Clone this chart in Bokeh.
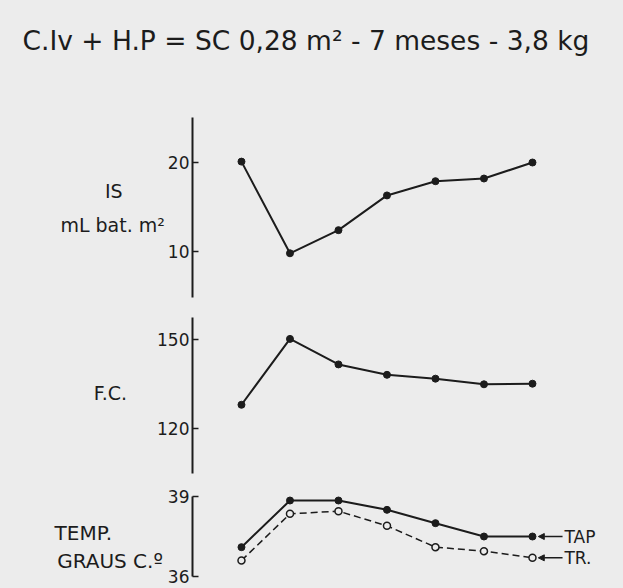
from bokeh.plotting import figure
from bokeh.layouts import column
from bokeh.models import Range1d, FixedTicker, Arrow, NormalHead
from bokeh.core.properties import value
from bokeh.embed import file_html
from bokeh.resources import INLINE

# ---- data ----
medicoes = [1, 2, 3, 4, 5, 6, 7]
is_vals = [20.1, 9.8, 12.4, 16.3, 17.9, 18.2, 20.0]
fc_vals = [128.0, 150.2, 141.6, 138.1, 136.8, 134.9, 135.1]
tap_vals = [37.1, 38.85, 38.85, 38.5, 38.0, 37.5, 37.5]
tr_vals = [36.6, 38.35, 38.45, 37.9, 37.1, 36.95, 36.7]
is_ticks = [10, 20]
fc_ticks = [120, 150]
temp_ticks = [36, 39]
title_text = "C.Iv + H.P = SC  0,28 m²  -  7 meses  -  3,8 kg"
NB = "\u00a0"
is_label = "IS" + NB * 7 + "\nmL bat. m²"
fc_label = "F.C."
temp_label = "\nTEMP." + NB * 8 + "\nGRAUS C.º"
tap_name = "TAP"
tr_name = "TR."

INK = "#1c1c1c"
BG = "#ececec"
FONT = "DejaVu Sans"

# ---- title strip ----
p0 = figure(width=623, height=70, x_range=Range1d(0, 1), y_range=Range1d(0, 1),
            output_backend="svg", toolbar_location=None, x_axis_location=None,
            y_axis_location=None, min_border_left=0, min_border_right=0,
            min_border_top=65, min_border_bottom=0, background_fill_color=None,
            border_fill_color=None, outline_line_color=None)
p0.grid.visible = False
p0.title.text = title_text
p0.title.align = "left"
p0.title.offset = -170
p0.title.standoff = 20
p0.title.text_font = FONT
p0.title.text_font_size = "26.5px"
p0.title.text_font_style = "normal"
p0.title.text_color = INK


def panel(height, btop, bbottom, yr, bounds, ticks, label, label_standoff, line_height,
          label_size="19px"):
    p = figure(width=623, height=height, x_range=Range1d(-0.01, 8.815), y_range=Range1d(*yr),
               output_backend="svg", toolbar_location=None, x_axis_location=None,
               min_border_left=192, min_border_right=3, min_border_top=btop,
               min_border_bottom=bbottom, background_fill_color=None, border_fill_color=None,
               outline_line_color=None)
    p.grid.visible = False
    ax = p.yaxis[0]
    ax.ticker = FixedTicker(ticks=ticks)
    ax.bounds = bounds
    ax.major_tick_in = 6
    ax.major_tick_out = 0
    ax.minor_tick_line_color = None
    ax.axis_line_width = 2
    ax.axis_line_color = INK
    ax.major_tick_line_color = INK
    ax.major_tick_line_width = 1.5
    ax.major_label_text_font = FONT
    ax.major_label_text_font_size = "17px"
    ax.major_label_text_color = INK
    ax.major_label_standoff = 3
    ax.axis_label = label
    ax.axis_label_orientation = "horizontal"
    ax.axis_label_standoff = label_standoff
    ax.axis_label_text_font = FONT
    ax.axis_label_text_font_style = "normal"
    ax.axis_label_text_font_size = label_size
    ax.axis_label_text_color = INK
    ax.axis_label_text_line_height = line_height
    return p


p1 = panel(237, 40, 2, (3.933, 25.843), (4.83, 25.06), is_ticks, is_label, 0, 1.55)
p1.line(medicoes, is_vals, line_color=INK, line_width=2)
p1.scatter(medicoes, is_vals, size=7, color=INK)

p2 = panel(178, 2, 10, (104.16, 160.11), (104.83, 157.41), fc_ticks, fc_label, 27, 1.2)
p2.line(medicoes, fc_vals, line_color=INK, line_width=2)
p2.scatter(medicoes, fc_vals, size=7, color=INK)

p3 = panel(103, 4, 12, (36.0, 39.2625), (36, 39), temp_ticks, temp_label, 2, 1.15, "20px")
p3.line(medicoes, tap_vals, line_color=INK, line_width=2)
p3.scatter(medicoes, tap_vals, size=7, color=INK)
p3.line(medicoes, tr_vals, line_color=INK, line_width=1.5, line_dash="7 4")
p3.scatter(medicoes, tr_vals, size=7, line_color=INK, line_width=1.5, fill_color=BG)

for vals, name in ((tap_vals, tap_name), (tr_vals, tr_name)):
    p3.add_layout(Arrow(end=NormalHead(size=6, fill_color=INK, line_color=INK),
                        x_start=medicoes[-1] + 0.62, y_start=vals[-1],
                        x_end=medicoes[-1] + 0.12, y_end=vals[-1],
                        line_color=INK, line_width=1.5))
    p3.text([medicoes[-1] + 0.66], [vals[-1]], text=[name], text_font=value(FONT),
            text_font_size="17px", text_align="left", text_baseline="middle", text_color=INK)

layout = column(p0, p1, p2, p3, spacing=0, styles={"background-color": BG})
open("out.html", "w").write(file_html(layout, INLINE))
